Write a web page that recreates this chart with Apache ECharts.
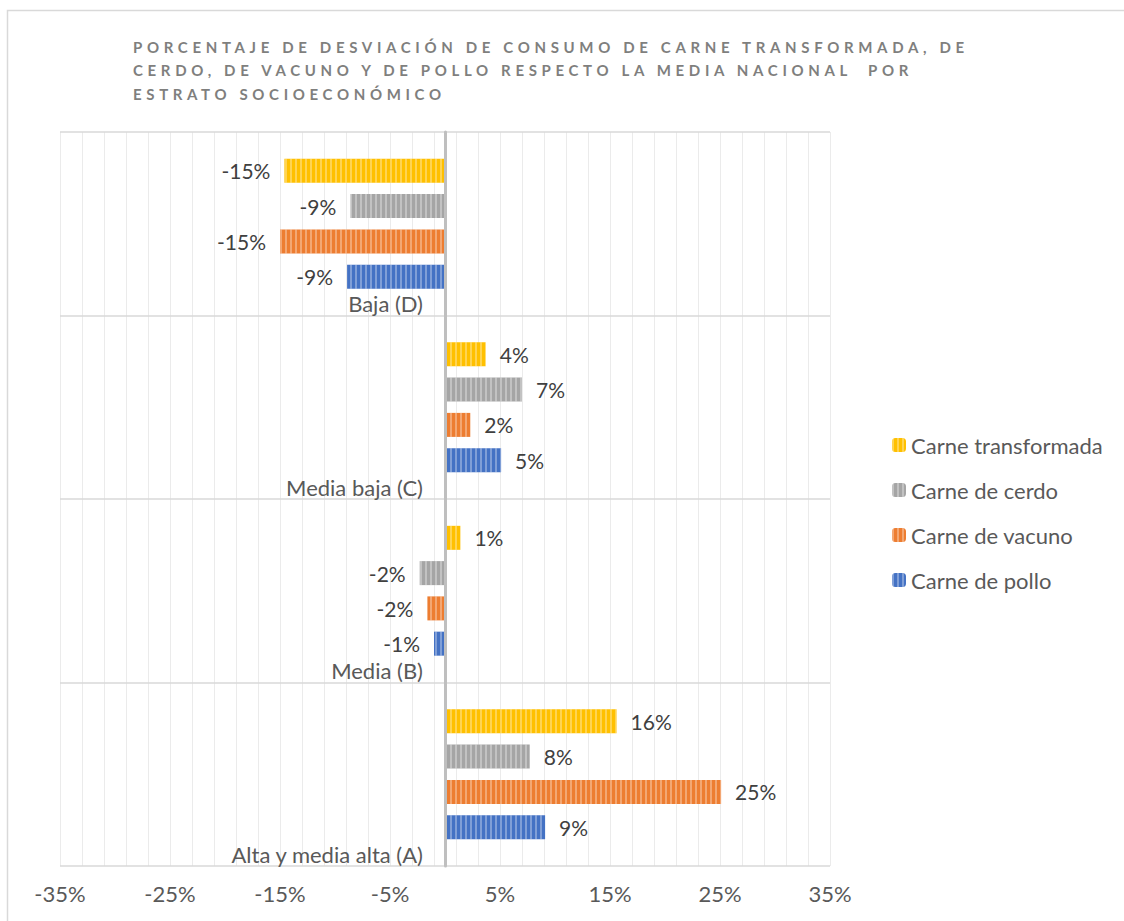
<!DOCTYPE html>
<html>
<head>
<meta charset="utf-8">
<script src="https://cdn.jsdelivr.net/npm/echarts@6/dist/echarts.min.js"></script>
<style>
  html, body { margin: 0; padding: 0; background: #fff; }
  #chart { width: 1124px; height: 921px; }
  /* spaced-out capitals for the heading */
  #chart svg text[fill="#7f7f7e"] { letter-spacing: 4.65px; }
</style>
</head>
<body>
<div id="chart"></div>
<script>
// Heading, one entry per line
const titleLines = [
  'PORCENTAJE DE DESVIACIÓN DE CONSUMO DE CARNE TRANSFORMADA, DE',
  'CERDO, DE VACUNO Y DE POLLO RESPECTO LA MEDIA NACIONAL  POR',
  'ESTRATO SOCIOECONÓMICO'
];

// Socioeconomic strata (bottom to top)
const categories = ['Alta y media alta (A)', 'Media (B)', 'Media baja (C)', 'Baja (D)'];

// Deviation from the national mean, in percent, per stratum
const transformada = [15.6, 1.4, 3.7, -14.6];
const cerdo        = [7.7, -2.3, 7.0, -8.6];
const vacuno       = [25.1, -1.6, 2.3, -15.0];
const pollo        = [9.1, -1.0, 5.1, -8.9];

const seriesNames  = ['Carne transformada', 'Carne de cerdo', 'Carne de vacuno', 'Carne de pollo'];
const seriesValues = [transformada, cerdo, vacuno, pollo];
const seriesColors = ['#FFC000', '#A5A5A5', '#ED7D31', '#4472C4'];

// Value axis range and tick step (percent)
const axisMin = -35, axisMax = 35, axisStep = 10;

const FONT = 'Lato';
const GRID_LEFT = 60, GRID_RIGHT = 294;
const PLOT_WIDTH = 1124 - GRID_LEFT - GRID_RIGHT;
// distance from the left plot edge to the zero line
const zeroOffset = PLOT_WIDTH * (0 - axisMin) / (axisMax - axisMin);

const stripes = {
  symbol: 'rect',
  symbolSize: 1,
  dashArrayX: [1.2, 2.4],
  dashArrayY: [10, 0],
  color: 'rgba(255,255,255,0.32)'
};

const series = seriesNames.map((name, i) => ({
  name,
  type: 'bar',
  barWidth: 24,
  barGap: '47%',
  itemStyle: { color: seriesColors[i], decal: stripes },
  label: {
    show: true,
    distance: 14,
    fontFamily: FONT,
    fontSize: 21,
    lineHeight: 18,
    color: '#404040',
    formatter: p => Math.round(p.value) + '%'
  },
  data: seriesValues[i].map(v => ({
    value: v,
    label: { position: v < 0 ? 'left' : 'right' }
  }))
}));

const chart = echarts.init(document.getElementById('chart'), null, { renderer: 'svg' });

chart.setOption({
  animation: false,
  backgroundColor: '#fff',
  graphic: [{
    type: 'rect',
    silent: true,
    shape: { x: 7.5, y: 10.5, width: 1300, height: 1100 },
    style: { fill: 'none', stroke: '#d9d9d9', lineWidth: 1.5 }
  }],
  title: {
    text: titleLines.join('\n'),
    left: 128,
    top: 30,
    textStyle: {
      fontFamily: FONT,
      fontSize: 15,
      fontWeight: 'bold',
      color: '#7f7f7e',
      lineHeight: 23.5
    }
  },
  legend: {
    orient: 'vertical',
    left: 887,
    top: 429,
    itemWidth: 14,
    itemHeight: 14,
    itemGap: 23,
    data: seriesNames,
    textStyle: { fontFamily: FONT, fontSize: 22, color: '#595959' }
  },
  grid: {
    left: GRID_LEFT, right: GRID_RIGHT, top: 132, bottom: 55,
    containLabel: false,
    outerBoundsMode: 'none'
  },
  xAxis: {
    type: 'value',
    min: axisMin,
    max: axisMax,
    interval: axisStep,
    axisLine: { show: false },
    axisTick: { show: false },
    axisLabel: {
      formatter: '{value}%',
      fontFamily: FONT,
      fontSize: 22,
      color: '#595959',
      margin: 16
    },
    splitLine: { show: true, lineStyle: { color: '#ebebeb', width: 1 } },
    minorTick: { show: false, splitNumber: 5 },
    minorSplitLine: { show: true, lineStyle: { color: '#ebebeb', width: 1 } }
  },
  yAxis: {
    type: 'category',
    data: categories,
    z: 5,
    offset: -zeroOffset,
    axisTick: { show: false },
    axisLine: { onZero: false, lineStyle: { color: '#bfbfbf', width: 3 } },
    splitLine: { show: true, lineStyle: { color: '#d9d9d9', width: 1.5 } },
    axisLabel: {
      interval: 0,
      margin: 22,
      verticalAlign: 'top',
      formatter: v => '{gap| }\n{txt|' + v + '}',
      rich: {
        gap: { fontSize: 2, lineHeight: 70 },
        txt: { fontFamily: FONT, fontSize: 22, color: '#595959', lineHeight: 20 }
      }
    }
  },
  series
});
</script>
</body>
</html>
